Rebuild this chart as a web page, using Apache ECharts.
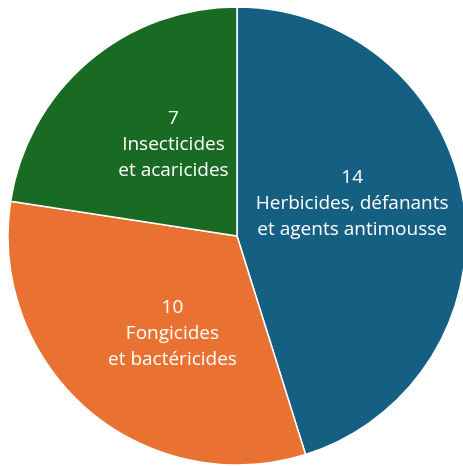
<!DOCTYPE html>
<html>
<head>
<meta charset="utf-8">
<script src="https://cdn.jsdelivr.net/npm/echarts@6/dist/echarts.min.js"></script>
<style>
  html, body { margin: 0; padding: 0; background: #fff; }
  #chart { width: 463px; height: 466px; }
</style>
</head>
<body>
<div id="chart"></div>
<script>
  // données
  var categories = ['Herbicides, défanants\net agents antimousse', 'Fongicides\net bactéricides', 'Insecticides\net acaricides']
  var values = [14, 10, 7]
  var colors = ['#156082', '#E97132', '#196B24']

  // déplacement des étiquettes (façon Excel)
  var labelShift = [[-1, -15], [12, 8], [13, -2]]

  var chart = echarts.init(document.getElementById('chart'))
  var option = {
    animation: false,
    series: [{
      type: 'pie',
      center: [237, 236],
      radius: 229,
      startAngle: 90,
      clockwise: true,
      data: categories.map(function (name, i) {
        return { name: name, value: values[i], itemStyle: { color: colors[i] } }
      }),
      itemStyle: {
        borderColor: '#ffffff',
        borderWidth: 1.5
      },
      label: {
        show: true,
        position: 'inside',
        formatter: '{c}\n{b}',
        color: '#ffffff',
        fontFamily: 'Open Sans',
        fontSize: 19,
        lineHeight: 26,
        align: 'center'
      },
      labelLayout: function (params) {
        var s = labelShift[params.dataIndex]
        return { dx: s[0], dy: s[1] }
      },
      labelLine: { show: false }
    }]
  }
  chart.setOption(option)
</script>
</body>
</html>
